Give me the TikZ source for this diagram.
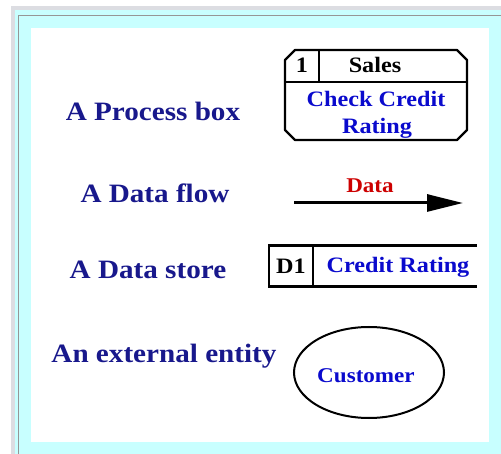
\documentclass[tikz,border=0pt]{standalone}
\usepackage{fontspec}
\usetikzlibrary{arrows.meta,shapes.geometric}
\newfontfamily\dfdfont{Liberation Serif}[FakeStretch=1.1]
\definecolor{frameGrey}{RGB}{220,221,226}
\definecolor{frameLine}{RGB}{150,150,150}
\definecolor{paleCyan}{RGB}{200,255,255}
\definecolor{labelNavy}{RGB}{24,24,140}
\definecolor{innerBlue}{RGB}{10,10,205}
\definecolor{flowRed}{RGB}{205,0,0}
\tikzset{
  caption/.style={anchor=base, inner sep=0pt, text=labelNavy,
    font=\dfdfont\bfseries\fontsize{26.5}{30}\selectfont},
  inner/.style={anchor=base, inner sep=0pt, text=innerBlue,
    font=\dfdfont\bfseries\fontsize{22}{26}\selectfont},
  tag/.style={inner, text=black},
  flowtext/.style={inner, text=flowRed, font=\dfdfont\bfseries\fontsize{21}{24}\selectfont},
  outline/.style={draw=black, line width=2.4pt, line join=round},
}
\begin{document}
\begin{tikzpicture}[x=1pt, y=-1pt]
\useasboundingbox (0,0) rectangle (501,454);
% window frame
\fill[white] (0,0) rectangle (501,454);
\fill[frameGrey] (11,6) rectangle (501,454);
\fill[paleCyan] (15,10) rectangle (501,454);
\draw[frameLine, line width=1.5pt] (501,15.5) -- (18.5,15.5) -- (18.5,454);
\fill[white] (31,28) rectangle (489,442);

% captions on the left
\node[caption] (procLbl)  at (153,121) {A Process box};
\node[caption] (flowLbl)  at (155,203) {A Data flow};
\node[caption] (storeLbl) at (148,279) {A Data store};
\node[caption] (extLbl)   at (164,363) {An external entity};

% process box with chamfered corners
\draw[outline] (295,50) -- (457,50) -- (467,60) -- (467,130) -- (457,140)
  -- (295,140) -- (285,130) -- (285,60) -- cycle;
\draw[outline] (285,82) -- (467,82);
\draw[outline] (319,50) -- (319,82);
\node[tag]   (procId)   at (302,73)  {1};
\node[tag]   (procLoc)  at (375,73)  {Sales};
\node[inner] (procName) at (376,107) {Check Credit};
\node[inner] (procName2) at (377,134) {Rating};

% data flow
\coordinate (flowA) at (294,203);
\coordinate (flowB) at (463,203);
\draw[line width=3pt, -{Triangle[length=36pt, width=17pt]}] (flowA) -- (flowB);
\node[flowtext] (flowName) at (370,193) {Data};

% data store
\draw[line width=3pt] (268,246) -- (477,246);
\draw[line width=3pt] (268,287) -- (477,287);
\draw[line width=2pt] (269,246) -- (269,287);
\draw[line width=2.4pt] (313,246) -- (313,287);
\node[tag]   (storeId)   at (291,274) {D1};
\node[inner] (storeName) at (398,273) {Credit Rating};

% external entity
\node[draw=black, line width=2pt, ellipse, minimum width=150pt, minimum height=91pt,
  inner sep=0pt] (entity) at (369,372.5) {};
\node[inner, font=\dfdfont\bfseries\fontsize{21}{24}\selectfont] (entName) at (366,383) {Customer};
\end{tikzpicture}
\end{document}
